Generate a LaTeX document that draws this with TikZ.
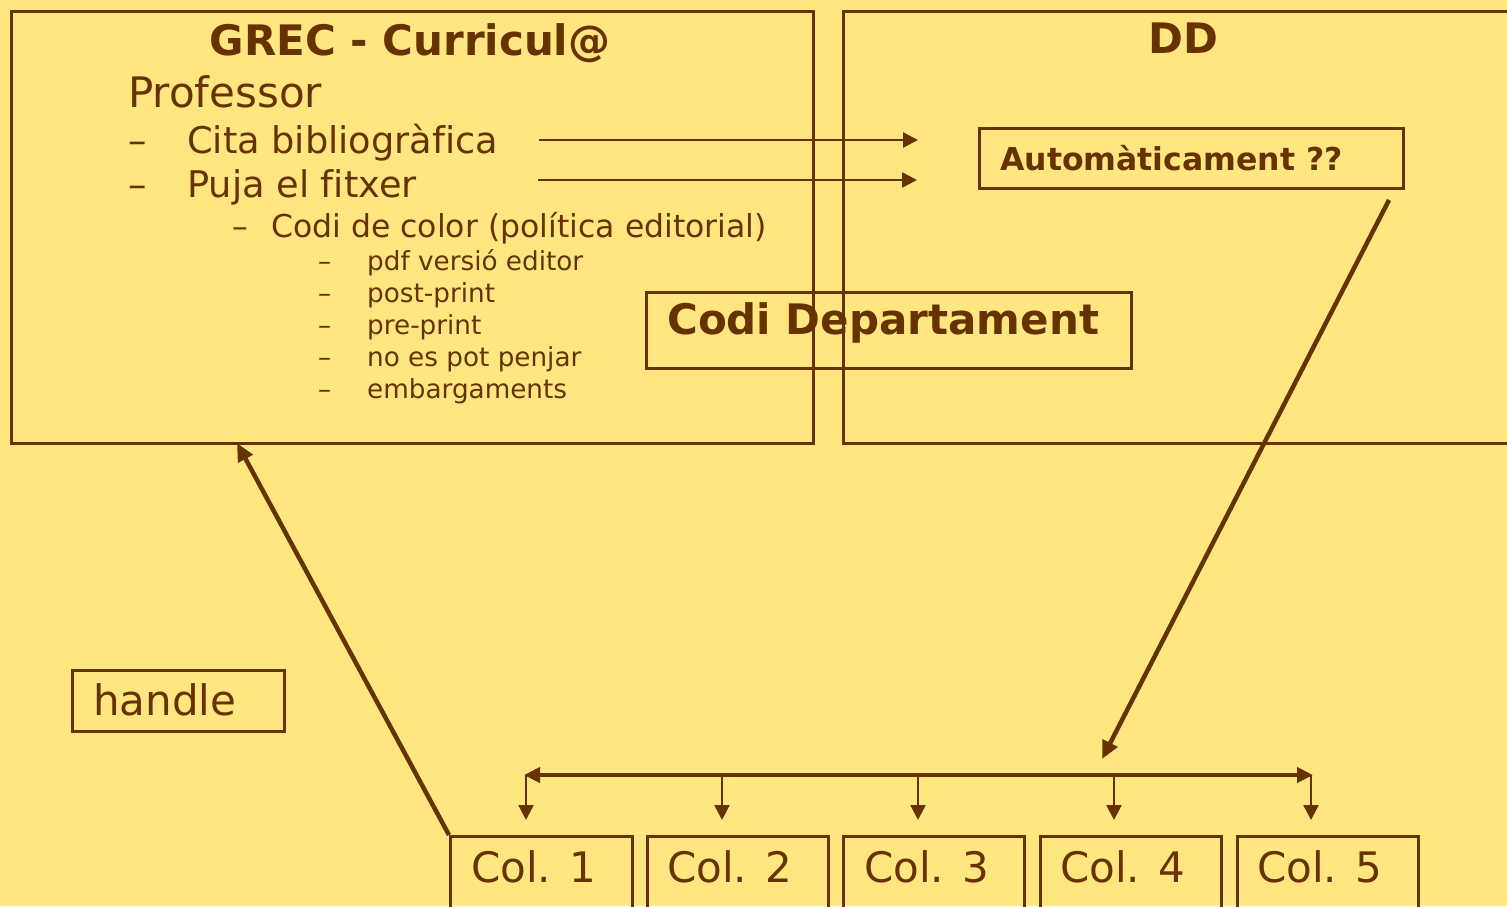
\documentclass[tikz,border=0pt]{standalone}
\usepackage{fontspec}
\setmainfont{DejaVu Sans}[Ligatures=NoCommon]
\usetikzlibrary{arrows.meta}
\definecolor{bgy}{RGB}{255,230,128}
\definecolor{brn}{RGB}{102,51,0}
\newcommand\szA{\fontsize{42}{50}\selectfont}
\newcommand\szB{\fontsize{36.75}{44}\selectfont}
\newcommand\szC{\fontsize{31.5}{38}\selectfont}
\newcommand\szD{\fontsize{26.25}{32}\selectfont}
\begin{document}
\begin{tikzpicture}[x=1pt,y=-1pt,
  box/.style={draw=brn, line width=2.5pt, rectangle, inner sep=0pt, anchor=north west},
  txt/.style={inner sep=0pt, anchor=base west, text=brn},
  ctxt/.style={inner sep=0pt, anchor=base, text=brn},
  thinarrow/.style={draw=brn, line width=2.5pt, -{Triangle[length=15pt,width=15pt]}},
  thickline/.style={draw=brn, line width=4.5pt},
  bigtip/.style={-{Triangle[length=18pt,width=16pt]}}
]
\fill[bgy] (0,0) rectangle (1507,906);
\useasboundingbox (0,0) rectangle (1507,906);
\clip (0,0) rectangle (1507,906);

% main boxes
\node[box, minimum width=802pt, minimum height=432pt] (grec) at (10,10) {};
\node[box, minimum width=690pt, minimum height=432pt] (dd) at (842,10) {};

% GREC contents
\node[ctxt, font=\szA\bfseries] (grectitle) at (410,55) {GREC - Curricul@};
\node[txt, font=\szA] (prof) at (128,107) {Professor};
\node[txt, font=\szB] (d1) at (128,153) {–};
\node[txt, font=\szB] (cita) at (187,153) {Cita bibliogràfica};
\node[txt, font=\szB] (d2) at (128,197) {–};
\node[txt, font=\szB] (puja) at (187,197) {Puja el fitxer};
\node[txt, font=\szC] (d3) at (232,237) {–};
\node[txt, font=\szC] (codi) at (271,237) {Codi de color (política editorial)};
\node[txt, font=\szD] (e1) at (318,270) {–};
\node[txt, font=\szD] (pdf) at (367,270) {pdf versió editor};
\node[txt, font=\szD] (e2) at (318,302) {–};
\node[txt, font=\szD] (post) at (367,302) {post-print};
\node[txt, font=\szD] (e3) at (318,334) {–};
\node[txt, font=\szD] (pre) at (367,334) {pre-print};
\node[txt, font=\szD] (e4) at (318,366) {–};
\node[txt, font=\szD] (nopot) at (367,366) {no es pot penjar};
\node[txt, font=\szD] (e5) at (318,398) {–};
\node[txt, font=\szD] (emb) at (367,398) {embargaments};

% DD contents
\node[ctxt, font=\szA\bfseries] (ddtitle) at (1183,53) {DD};
\node[box, minimum width=424pt, minimum height=60pt] (auto) at (978,127) {};
\node[txt, font=\szC\bfseries] (autotxt) at (1000,170) {Automàticament ??};

% Codi Departament
\node[box, minimum width=485pt, minimum height=76pt] (codidep) at (645,291) {};
\node[txt, font=\szA\bfseries] (coditxt) at (667,334) {Codi Departament};

% handle
\node[box, minimum width=212pt, minimum height=61pt] (handle) at (71,669) {};
\node[txt, font=\szA] (handletxt) at (93,715) {handle};

% Col boxes
\node[box, minimum width=182pt, minimum height=100pt] (c1) at (449,835) {};
\node[box, minimum width=181pt, minimum height=100pt] (c2) at (646,835) {};
\node[box, minimum width=181pt, minimum height=100pt] (c3) at (842,835) {};
\node[box, minimum width=181pt, minimum height=100pt] (c4) at (1039,835) {};
\node[box, minimum width=181pt, minimum height=100pt] (c5) at (1236,835) {};
\node[txt, font=\szA] (c1t) at (471,882) {Col. 1};
\node[txt, font=\szA] (c2t) at (667,882) {Col. 2};
\node[txt, font=\szA] (c3t) at (864,882) {Col. 3};
\node[txt, font=\szA] (c4t) at (1060,882) {Col. 4};
\node[txt, font=\szA] (c5t) at (1257,882) {Col. 5};

% coordinates
\coordinate (a1s) at (539,140);
\coordinate (a1e) at (918,140);
\coordinate (a2s) at (538,180);
\coordinate (a2e) at (917,180);
\coordinate (diagS) at (1389,200);
\coordinate (diagE) at (1102,759);
\coordinate (hL) at (524,775);
\coordinate (hR) at (1313,775);
\coordinate (h1) at (526,775);
\coordinate (h2) at (722,775);
\coordinate (h3) at (918,775);
\coordinate (h4) at (1114,775);
\coordinate (h5) at (1311,775);
\coordinate (handleEnd) at (237,443);

% connectors
\draw[thinarrow] (a1s) -- (a1e);
\draw[thinarrow] (a2s) -- (a2e);
\draw[thickline, bigtip] (diagS) -- (diagE);
\draw[thickline, {Triangle[length=16pt,width=15pt]}-{Triangle[length=16pt,width=15pt]}] (hL) -- (hR);
\foreach \i in {1,...,5}{
  \draw[thinarrow] (h\i) -- ++(0,45);
}
\draw[thickline, bigtip] (c1.north west) -- (handleEnd);
\end{tikzpicture}
\end{document}
